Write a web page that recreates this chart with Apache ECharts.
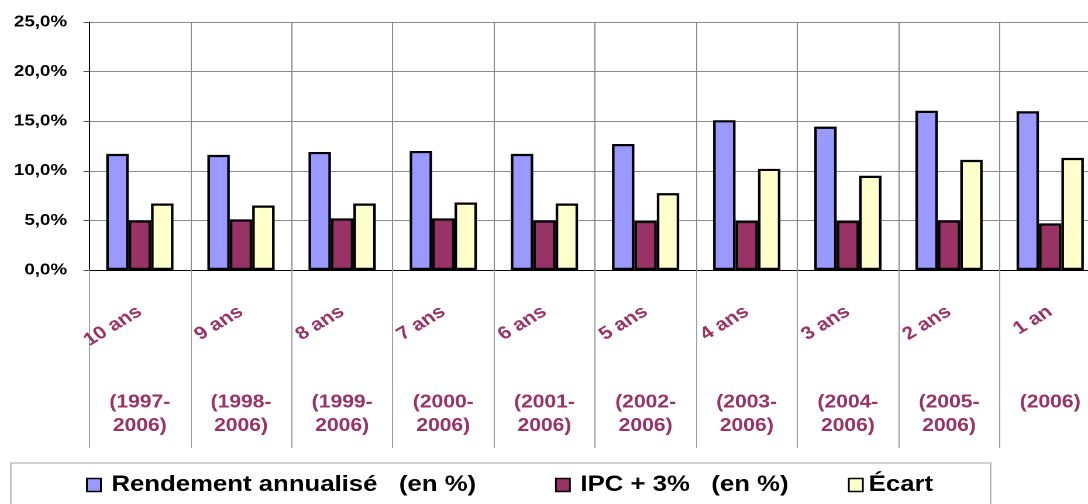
<!DOCTYPE html>
<html>
<head>
<meta charset="utf-8">
<script src="https://cdn.jsdelivr.net/npm/echarts@6/dist/echarts.min.js"></script>
<style>
  html, body { margin: 0; padding: 0; background: #fff; overflow: hidden; width: 1088px; height: 504px; }
  #chart { width: 960px; height: 504px; transform: scaleX(1.1699); transform-origin: 0 0; }
</style>
</head>
<body>
<div id="chart"></div>
<script>
const periods = ['10 ans', '9 ans', '8 ans', '7 ans', '6 ans', '5 ans', '4 ans', '3 ans', '2 ans', '1 an'];
const yearRanges = ['(1997-\n2006)', '(1998-\n2006)', '(1999-\n2006)', '(2000-\n2006)', '(2001-\n2006)',
                    '(2002-\n2006)', '(2003-\n2006)', '(2004-\n2006)', '(2005-\n2006)', '(2006)'];
const rendement = [11.7, 11.6, 11.9, 12.0, 11.7, 12.7, 15.1, 14.45, 16.05, 16.0];
const ipc = [5.0, 5.1, 5.2, 5.2, 5.0, 4.95, 4.95, 4.95, 5.0, 4.7];
const ecart = [6.7, 6.5, 6.7, 6.8, 6.7, 7.75, 10.2, 9.5, 11.1, 11.3];
const yTickLabels = ['0,0%', '5,0%', '10,0%', '15,0%', '20,0%', '25,0%'];
const seriesNames = ['Rendement annualisé   (en %)', 'IPC + 3%   (en %)', 'Écart'];

const FONT = 'Liberation Sans, Arial, sans-serif';
const plum = '#993366';

const chart = echarts.init(document.getElementById('chart'), null, { devicePixelRatio: 2 });

function legendAt(name, left, pad) {
  return {
    data: [name], left: left, top: 474, padding: 0, orient: 'horizontal',
    itemWidth: 12, itemHeight: 13, icon: 'rect', selectedMode: false,
    itemStyle: { borderColor: '#000', borderWidth: 1.5 },
    textStyle: { fontFamily: FONT, fontSize: 22, fontWeight: 'bold', color: '#000', padding: pad }
  };
}

const option = {
  animation: false,
  backgroundColor: '#fff',
  textStyle: { fontFamily: FONT },
  grid: { left: 76.3, right: 19.1, top: 22, bottom: 234, containLabel: false },
  graphic: [{
    type: 'rect', left: 6.8, top: 460.5, silent: true,
    shape: { width: 837.6, height: 60 },
    style: { fill: 'none', stroke: '#a6a6a6', lineWidth: 1 }
  }],
  legend: [
    legendAt(seriesNames[0], 73.5, [0, 0, 0, 4]),
    legendAt(seriesNames[1], 474.4, [0, 0, 0, 4]),
    legendAt(seriesNames[2], 724.8, [0, 0, 0, 0])
  ],
  xAxis: [{
    type: 'category', data: periods, position: 'bottom',
    axisLine: { show: true, lineStyle: { color: '#000', width: 1 } },
    axisTick: { show: true, interval: 0, length: 178, lineStyle: { color: '#a0a0a0', width: 1 } },
    splitLine: { show: true, interval: 0, lineStyle: { color: '#8c8c8c', width: 1 } },
    axisLabel: { interval: 0, rotate: 35, margin: 40, color: plum, fontSize: 18, fontWeight: 'bold', fontFamily: FONT }
  }, {
    type: 'category', data: yearRanges, position: 'bottom',
    axisLine: { show: false }, axisTick: { show: false }, splitLine: { show: false },
    axisLabel: { interval: 0, margin: 121, verticalAlign: 'top', lineHeight: 23.5, color: plum,
                 fontSize: 18, fontWeight: 'bold', fontFamily: FONT, align: 'center' }
  }],
  yAxis: {
    type: 'value', min: 0, max: 25, interval: 5,
    axisLine: { show: true, lineStyle: { color: '#000', width: 1 } },
    axisTick: { show: true, length: 5, lineStyle: { color: '#555' } },
    splitLine: { show: true, lineStyle: { color: '#8c8c8c', width: 1 } },
    axisLabel: {
      margin: 19, color: '#000', fontSize: 16, fontWeight: 'bold', fontFamily: FONT,
      formatter: v => yTickLabels[Math.round(v / 5)]
    }
  },
  series: [
    { name: seriesNames[0], type: 'bar', data: rendement, barGap: '0%', barCategoryGap: '33.5%',
      itemStyle: { color: '#9999FF', borderColor: '#000', borderWidth: 2.2 } },
    { name: seriesNames[1], type: 'bar', data: ipc, barGap: '0%', barCategoryGap: '33.5%',
      itemStyle: { color: '#993366', borderColor: '#000', borderWidth: 2.2 } },
    { name: seriesNames[2], type: 'bar', data: ecart, barGap: '0%', barCategoryGap: '33.5%',
      itemStyle: { color: '#FFFFCC', borderColor: '#000', borderWidth: 2.2 } }
  ]
};
chart.setOption(option);
</script>
</body>
</html>
